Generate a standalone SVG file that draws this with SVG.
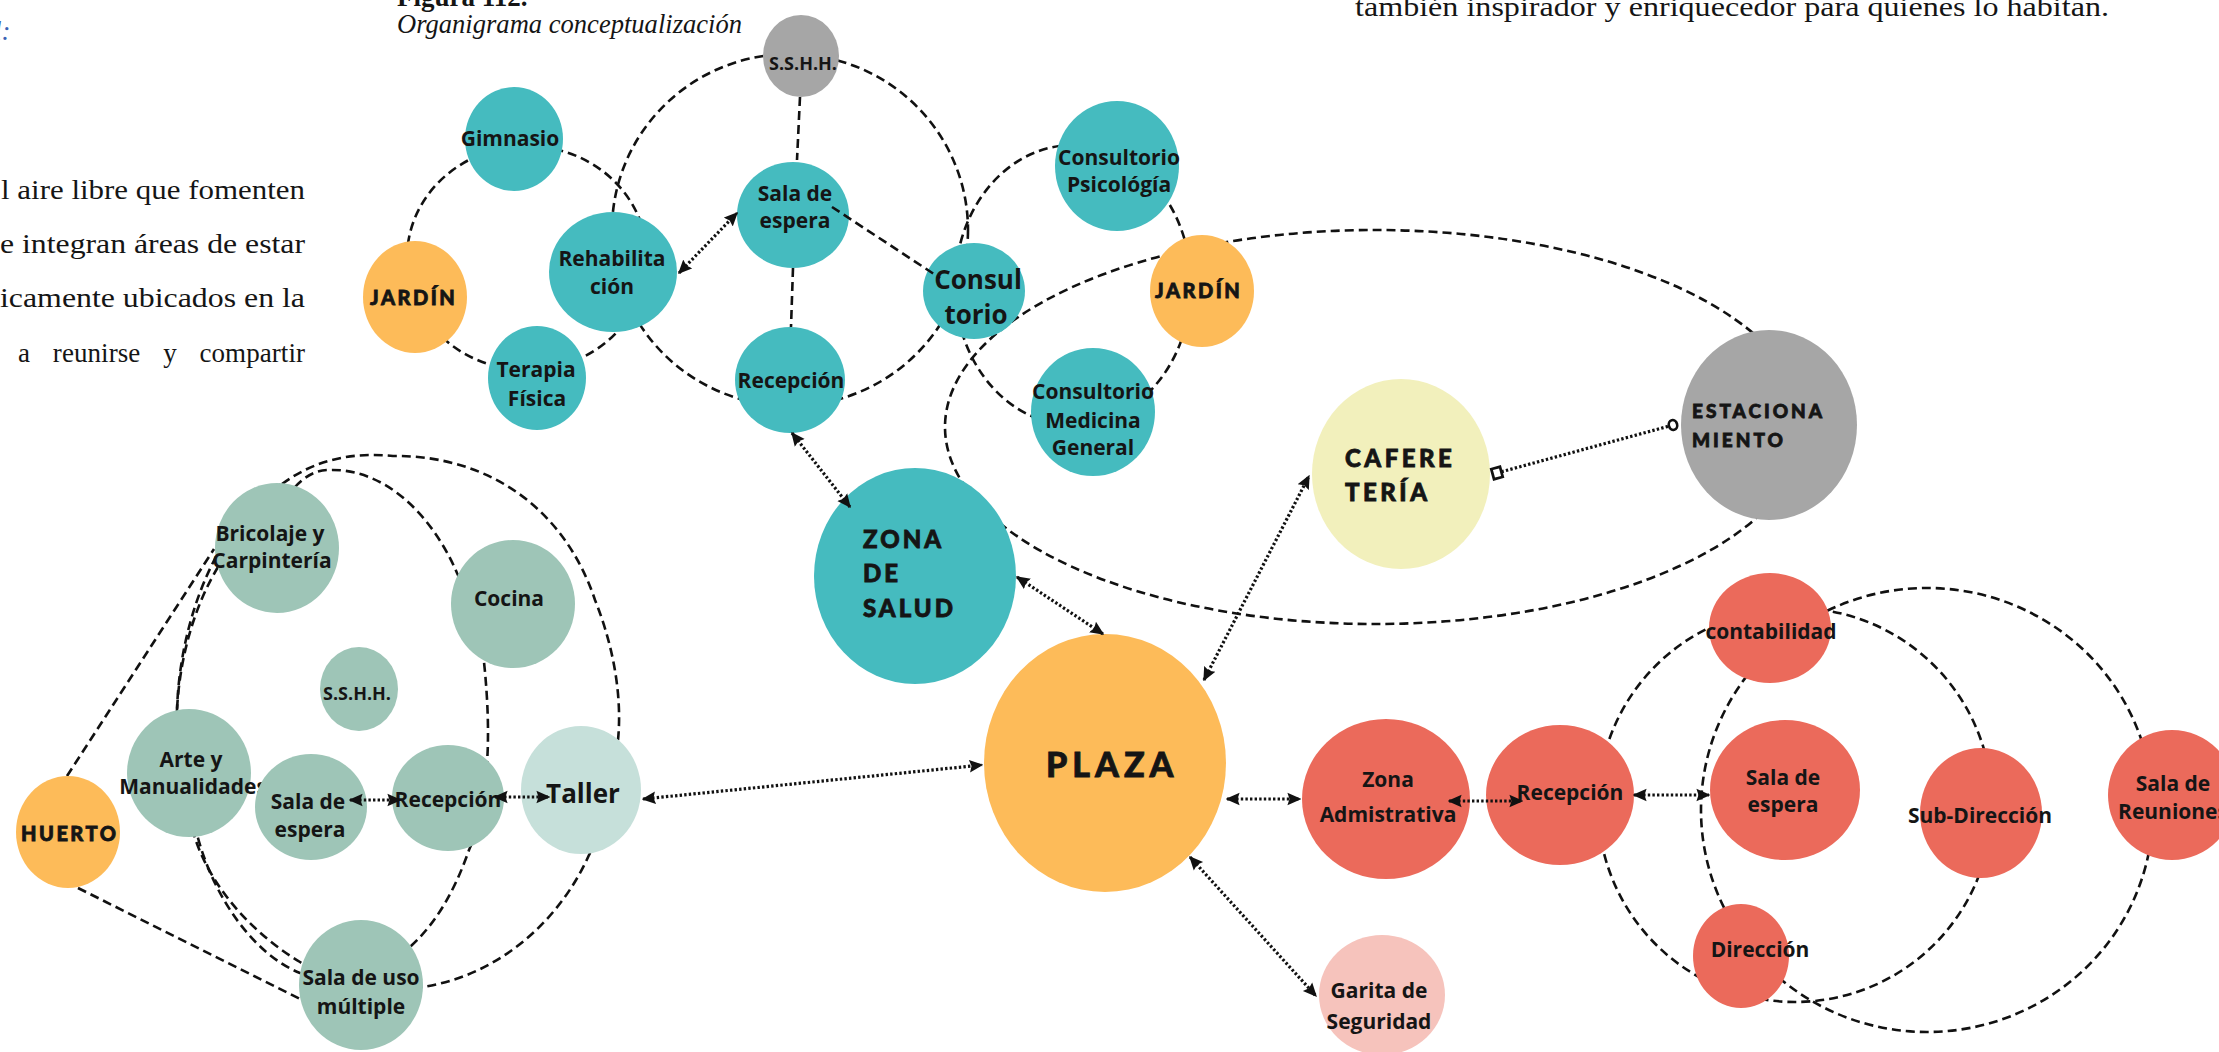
<svg xmlns="http://www.w3.org/2000/svg" width="2219" height="1052" viewBox="0 0 2219 1052">
<style>
  .bg { fill: #ffffff; }
  .body { font-family: "Liberation Serif", "Times New Roman", serif; font-size: 27px; fill: #151515; }
  .lbl { font-family: "Open Sans", "Liberation Sans", sans-serif; font-weight: 700; font-size: 21px; fill: #151515; text-anchor: middle; }
  .big { font-size: 26px; }
  .sm { font-size: 18px; }
  .disp { font-family: Lato, "Liberation Sans", sans-serif; font-weight: 900; fill: #151515; stroke: #151515; stroke-width: 0.8; }
  .ring { fill: none; stroke: #111; stroke-width: 2.6; stroke-dasharray: 9 5; }
  .dot { fill: none; stroke: #111; stroke-width: 3.2; stroke-dasharray: 2.4 2.2; }
  .teal { fill: #45BBBF; }
  .orange { fill: #FDBB59; }
  .gray { fill: #A6A6A6; }
  .sage { fill: #9EC5B7; }
  .pale { fill: #C6E0DA; }
  .cream { fill: #F2F0BC; }
  .red { fill: #EB6A5B; }
  .pink { fill: #F6C3BC; }
</style>
<defs>
  <marker id="head" viewBox="0 0 10 10" refX="9" refY="5" markerWidth="14" markerHeight="14" markerUnits="userSpaceOnUse" orient="auto-start-reverse">
    <path d="M0,0.5 L10,5 L0,9.5 L1.5,5 Z" fill="#111"/>
  </marker>
  <marker id="box" viewBox="0 0 10 10" refX="5" refY="5" markerWidth="15" markerHeight="15" markerUnits="userSpaceOnUse" orient="auto">
    <rect x="2" y="1.5" width="6" height="7" fill="#fff" stroke="#111" stroke-width="1.8"/>
  </marker>
  <marker id="ring" viewBox="0 0 10 10" refX="5" refY="5" markerWidth="13" markerHeight="13" markerUnits="userSpaceOnUse" orient="auto">
    <ellipse cx="5" cy="5" rx="3.2" ry="3.8" fill="#fff" stroke="#111" stroke-width="2"/>
  </marker>
</defs>

<rect class="bg" x="0" y="0" width="2219" height="1052"/>

<!-- surrounding page text -->
<g id="page-text">
  <text x="-6" y="40" font-family="Liberation Serif, serif" font-style="italic" font-size="27" fill="#3A62B4">l:</text>
  <text x="397" y="6" font-family="Liberation Serif, serif" font-weight="700" font-size="27" fill="#151515">Figura 112.</text>
  <text x="397" y="33" font-family="Liberation Serif, serif" font-style="italic" font-size="27" fill="#151515" textLength="345" lengthAdjust="spacingAndGlyphs">Organigrama conceptualización</text>
  <text class="body" x="1355" y="16" textLength="754" lengthAdjust="spacingAndGlyphs">también inspirador y enriquecedor para quienes lo habitan.</text>
  <text class="body" x="1" y="199" textLength="304" lengthAdjust="spacingAndGlyphs">l aire libre que fomenten</text>
  <text class="body" x="0" y="253" textLength="305" lengthAdjust="spacingAndGlyphs">e integran áreas de estar</text>
  <text class="body" x="0" y="307" textLength="305" lengthAdjust="spacingAndGlyphs">icamente ubicados en la</text>
  <text class="body" x="18" y="362" word-spacing="16" textLength="287" lengthAdjust="spacing">a reunirse y compartir</text>
</g>

<!-- dashed relation rings, drawn beneath the zones -->
<g id="relations">
  <ellipse class="ring" cx="790" cy="230" rx="178" ry="176"/>
  <ellipse class="ring" cx="527" cy="258" rx="120" ry="112"/>
  <ellipse class="ring" cx="1073" cy="285" rx="118" ry="140"/>
  <ellipse class="ring" cx="1375" cy="427" rx="430" ry="197"/>
  <ellipse class="ring" cx="1795" cy="805" rx="197" ry="197"/>
  <ellipse class="ring" cx="1927" cy="810" rx="226" ry="222"/>
  <path class="ring" d="M282,484 C315,460 350,452 393,456 C490,455 565,510 595,600 C615,650 622,700 618,740 C614,795 603,830 589,855 C560,920 500,975 423,987 C380,993 335,985 300,962 C255,935 212,890 195,838 C182,800 176,755 177,710 C179,650 195,595 218,553 C235,520 255,495 282,484 Z"/>
  <path class="ring" d="M295,487 C305,476 316,470 329,470 C385,468 432,515 457,573 C475,610 484,640 484,662 C488,700 489,735 487,763 C484,800 478,830 469,850 C455,890 437,922 411,946 C378,975 338,984 300,973 C255,955 215,900 198,838 C186,795 178,752 177,710 C180,650 198,600 218,567 C240,530 265,500 295,487 Z"/>
  <line class="ring" x1="67" y1="776" x2="214" y2="549"/>
  <line class="ring" x1="78" y1="888" x2="300" y2="999"/>
  <line class="ring" x1="800" y1="97" x2="797" y2="160"/>
  <line class="ring" x1="793" y1="268" x2="791" y2="327"/>
</g>

<!-- health zone -->
<g id="n-sshh-salud"><ellipse class="gray" cx="801" cy="56" rx="38" ry="41"/><text class="lbl sm" x="803" y="70">S.S.H.H.</text></g>
<g id="n-gimnasio"><ellipse class="teal" cx="514" cy="139" rx="49" ry="52"/><text class="lbl" x="510" y="146">Gimnasio</text></g>
<g id="n-jardin-1"><ellipse class="orange" cx="415" cy="297" rx="52" ry="56"/><text class="disp" x="370" y="305" font-size="20" letter-spacing="2.5">JARDÍN</text></g>
<g id="n-rehabilitacion"><ellipse class="teal" cx="613" cy="272" rx="64" ry="60"/><text class="lbl" x="612" y="266">Rehabilita</text><text class="lbl" x="612" y="294">ción</text></g>
<g id="n-terapia"><ellipse class="teal" cx="537" cy="378" rx="49" ry="52"/><text class="lbl" x="536" y="377">Terapia</text><text class="lbl" x="537" y="406">Física</text></g>
<g id="n-sala-espera-salud"><ellipse class="teal" cx="793" cy="215" rx="56" ry="53"/><text class="lbl" x="795" y="201">Sala de</text><text class="lbl" x="795" y="228">espera</text></g>
<g id="n-recepcion-salud"><ellipse class="teal" cx="790" cy="380" rx="55" ry="53"/><text class="lbl" x="791" y="388">Recepción</text></g>
<g id="n-consultorio"><ellipse class="teal" cx="974" cy="291" rx="51" ry="48"/><text class="lbl big" x="978" y="289">Consul</text><text class="lbl big" x="976" y="324">torio</text></g>
<g id="n-psicologia"><ellipse class="teal" cx="1117" cy="166" rx="62" ry="65"/><text class="lbl" x="1119" y="165">Consultorio</text><text class="lbl" x="1119" y="192">Psicológía</text></g>
<g id="n-jardin-2"><ellipse class="orange" cx="1202" cy="291" rx="52" ry="56"/><text class="disp" x="1155" y="298" font-size="20" letter-spacing="2.5">JARDÍN</text></g>
<g id="n-medicina"><ellipse class="teal" cx="1093" cy="412" rx="62" ry="64"/><text class="lbl" x="1093" y="399">Consultorio</text><text class="lbl" x="1093" y="428">Medicina</text><text class="lbl" x="1093" y="455">General</text></g>
<g id="n-zona-salud"><ellipse class="teal" cx="915" cy="576" rx="101" ry="108"/><text class="disp" x="863" y="548" font-size="24" letter-spacing="3">ZONA</text><text class="disp" x="863" y="582" font-size="24" letter-spacing="3">DE</text><text class="disp" x="863" y="617" font-size="24" letter-spacing="3">SALUD</text></g>

<!-- central spaces -->
<g id="n-plaza"><ellipse class="orange" cx="1105" cy="763" rx="121" ry="129"/><text class="disp" x="1046" y="777" font-size="34" letter-spacing="5">PLAZA</text></g>
<g id="n-cafeteria"><ellipse class="cream" cx="1401" cy="474" rx="89" ry="95"/><text class="disp" x="1345" y="467" font-size="24" letter-spacing="3.5">CAFERE</text><text class="disp" x="1345" y="501" font-size="24" letter-spacing="3.5">TERÍA</text></g>
<g id="n-estacionamiento"><ellipse class="gray" cx="1769" cy="425" rx="88" ry="95"/><text class="disp" x="1692" y="418" font-size="19" letter-spacing="3">ESTACIONA</text><text class="disp" x="1692" y="447" font-size="19" letter-spacing="3">MIENTO</text></g>
<g id="n-garita"><ellipse class="pink" cx="1382" cy="995" rx="63" ry="60"/><text class="lbl" x="1379" y="998">Garita de</text><text class="lbl" x="1379" y="1029">Seguridad</text></g>

<!-- administrative zone -->
<g id="n-zona-adm"><ellipse class="red" cx="1386" cy="799" rx="84" ry="80"/><text class="lbl" x="1388" y="787" font-size="26">Zona</text><text class="lbl" x="1388" y="822" font-size="26">Admistrativa</text></g>
<g id="n-recepcion-adm"><ellipse class="red" cx="1560" cy="795" rx="74" ry="70"/><text class="lbl" x="1570" y="800">Recepción</text></g>
<g id="n-contabilidad"><ellipse class="red" cx="1770" cy="628" rx="61" ry="55"/><text class="lbl" x="1771" y="639">contabilidad</text></g>
<g id="n-sala-espera-adm"><ellipse class="red" cx="1785" cy="790" rx="75" ry="70"/><text class="lbl" x="1783" y="785">Sala de</text><text class="lbl" x="1783" y="812">espera</text></g>
<g id="n-subdireccion"><ellipse class="red" cx="1981" cy="813" rx="61" ry="65"/><text class="lbl" x="1980" y="823">Sub-Dirección</text></g>
<g id="n-direccion"><ellipse class="red" cx="1741" cy="956" rx="48" ry="52"/><text class="lbl" x="1760" y="957">Dirección</text></g>
<g id="n-reuniones"><ellipse class="red" cx="2172" cy="795" rx="64" ry="65"/><text class="lbl" x="2173" y="791">Sala de</text><text class="lbl" x="2173" y="819">Reuniones</text></g>

<!-- workshop zone -->
<g id="n-huerto"><ellipse class="orange" cx="68" cy="832" rx="52" ry="56"/><text class="disp" x="21" y="841" font-size="20" letter-spacing="2.5">HUERTO</text></g>
<g id="n-arte"><ellipse class="sage" cx="189" cy="773" rx="62" ry="64"/><text class="lbl" x="191" y="767">Arte y</text><text class="lbl" x="193" y="794">Manualidades</text></g>
<g id="n-bricolaje"><ellipse class="sage" cx="277" cy="548" rx="62" ry="65"/><text class="lbl" x="270" y="541">Bricolaje y</text><text class="lbl" x="272" y="568">Carpintería</text></g>
<g id="n-cocina"><ellipse class="sage" cx="513" cy="604" rx="62" ry="64"/><text class="lbl" x="509" y="606">Cocina</text></g>
<g id="n-sshh-taller"><ellipse class="sage" cx="359" cy="689" rx="39" ry="42"/><text class="lbl sm" x="357" y="700">S.S.H.H.</text></g>
<g id="n-sala-espera-taller"><ellipse class="sage" cx="311" cy="807" rx="56" ry="53"/><text class="lbl" x="308" y="809">Sala de</text><text class="lbl" x="310" y="837">espera</text></g>
<g id="n-recepcion-taller"><ellipse class="sage" cx="448" cy="798" rx="56" ry="53"/><text class="lbl" x="448" y="807">Recepción</text></g>
<g id="n-taller"><ellipse class="pale" cx="581" cy="790" rx="60" ry="64"/><text class="lbl big" x="583" y="803">Taller</text></g>
<g id="n-uso-multiple"><ellipse class="sage" cx="361" cy="985" rx="62" ry="65"/><text class="lbl" x="361" y="985">Sala de uso</text><text class="lbl" x="361" y="1014">múltiple</text></g>

<!-- connectors drawn over the zones -->
<g id="connectors">
  <line class="ring" x1="832" y1="207" x2="940" y2="278"/>
  <line class="dot" x1="679" y1="273" x2="737" y2="213" marker-start="url(#head)" marker-end="url(#head)"/>
  <line class="dot" x1="792" y1="433" x2="850" y2="507" marker-start="url(#head)" marker-end="url(#head)"/>
  <line class="dot" x1="1017" y1="577" x2="1103" y2="634" marker-start="url(#head)" marker-end="url(#head)"/>
  <line class="dot" x1="1204" y1="680" x2="1309" y2="476" marker-start="url(#head)" marker-end="url(#head)"/>
  <line class="dot" x1="1497" y1="473" x2="1673" y2="425" marker-start="url(#box)" marker-end="url(#ring)"/>
  <line class="dot" x1="643" y1="799" x2="982" y2="765" marker-start="url(#head)" marker-end="url(#head)"/>
  <line class="dot" x1="1227" y1="799" x2="1300" y2="799" marker-start="url(#head)" marker-end="url(#head)"/>
  <line class="dot" x1="1190" y1="857" x2="1316" y2="996" marker-start="url(#head)" marker-end="url(#head)"/>
  <line class="dot" x1="1449" y1="801" x2="1522" y2="801" marker-start="url(#head)" marker-end="url(#head)"/>
  <line class="dot" x1="1634" y1="795" x2="1709" y2="795" marker-start="url(#head)" marker-end="url(#head)"/>
  <line class="dot" x1="350" y1="800" x2="400" y2="800" marker-start="url(#head)" marker-end="url(#head)"/>
  <line class="dot" x1="495" y1="797" x2="549" y2="797" marker-start="url(#head)" marker-end="url(#head)"/>
</g>
</svg>
